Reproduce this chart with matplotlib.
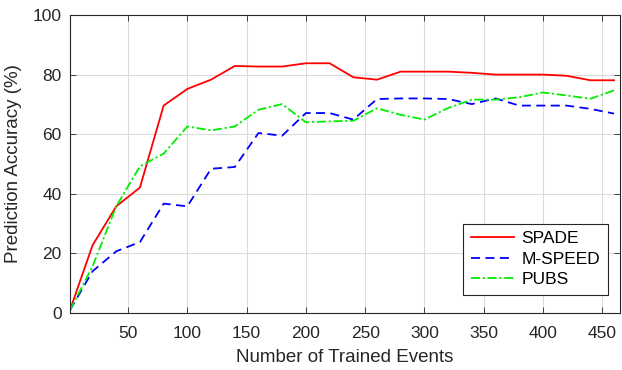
import matplotlib
matplotlib.use("Agg")
import matplotlib.pyplot as plt

plt.rcParams['font.family'] = ['Liberation Sans', 'DejaVu Sans']

events = [1, 20, 40, 60, 80, 100, 120, 140, 160, 180, 200, 220, 240,
          260, 280, 300, 320, 340, 360, 380, 400, 420, 440, 460]
spade = [1, 22.7, 35.8, 42.1, 69.6, 75.2, 78.3, 82.9, 82.7, 82.7, 83.8, 83.8, 79.1,
         78.3, 81.0, 81.0, 81.0, 80.6, 80.0, 80.0, 80.0, 79.6, 78.1, 78.1]
mspeed = [1, 14.0, 20.7, 23.8, 36.7, 35.8, 48.4, 49.0, 60.4, 59.5, 67.1, 67.1, 64.9,
          71.8, 72.0, 72.0, 71.8, 70.1, 72.0, 69.6, 69.6, 69.6, 68.5, 66.9]
pubs = [1, 15.6, 35.8, 49.2, 53.5, 62.6, 61.3, 62.6, 68.2, 70.1, 64.0, 64.3, 64.5,
        68.7, 66.5, 64.9, 68.8, 71.6, 71.6, 72.4, 74.0, 73.0, 71.9, 74.7]
xticks = [50, 100, 150, 200, 250, 300, 350, 400, 450]
yticks = [0, 20, 40, 60, 80, 100]

fig = plt.figure(figsize=(6.22, 3.70), dpi=100)
ax = fig.add_axes([70 / 622, 1 - 313 / 370, 550 / 622, 298 / 370])

ax.plot(events, spade, color='#ff0000', lw=1.3, label='SPADE')
ax.plot(events, mspeed, color='#0000ff', lw=1.3, ls=(0, (5, 3)), label='M-SPEED')
ax.plot(events, pubs, color='#00ee00', lw=1.3, ls=(0, (5, 1.5, 1.2, 1.5)), label='PUBS')

ax.set_xlim(1, 465)
ax.set_ylim(0, 100)
ax.set_xticks(xticks)
ax.set_yticks(yticks)
ax.grid(True, color='#dcdcdc', lw=0.8)
ax.set_axisbelow(True)
for s in ax.spines.values():
    s.set_color('#262626')
    s.set_linewidth(0.8)
ax.tick_params(direction='in', top=True, right=True, length=4, width=0.6,
               labelsize=12.5, colors='#262626')
ax.tick_params(axis='x', pad=9)
ax.tick_params(axis='y', pad=6)

ax.set_xlabel('Number of Trained Events', fontsize=13.5, color='#262626', labelpad=6)
ax.set_ylabel('Prediction Accuracy (%)', fontsize=13.5, color='#262626', labelpad=8)

leg = ax.legend(loc='lower right', fontsize=12.5, fancybox=False, framealpha=1,
                edgecolor='#262626', handlelength=2.5, handletextpad=0.4,
                borderpad=0.45, labelspacing=0.3, borderaxespad=0,
                bbox_to_anchor=(538 / 550, 18 / 298))
leg.get_frame().set_linewidth(0.8)

fig.savefig('out.png', dpi=100)
